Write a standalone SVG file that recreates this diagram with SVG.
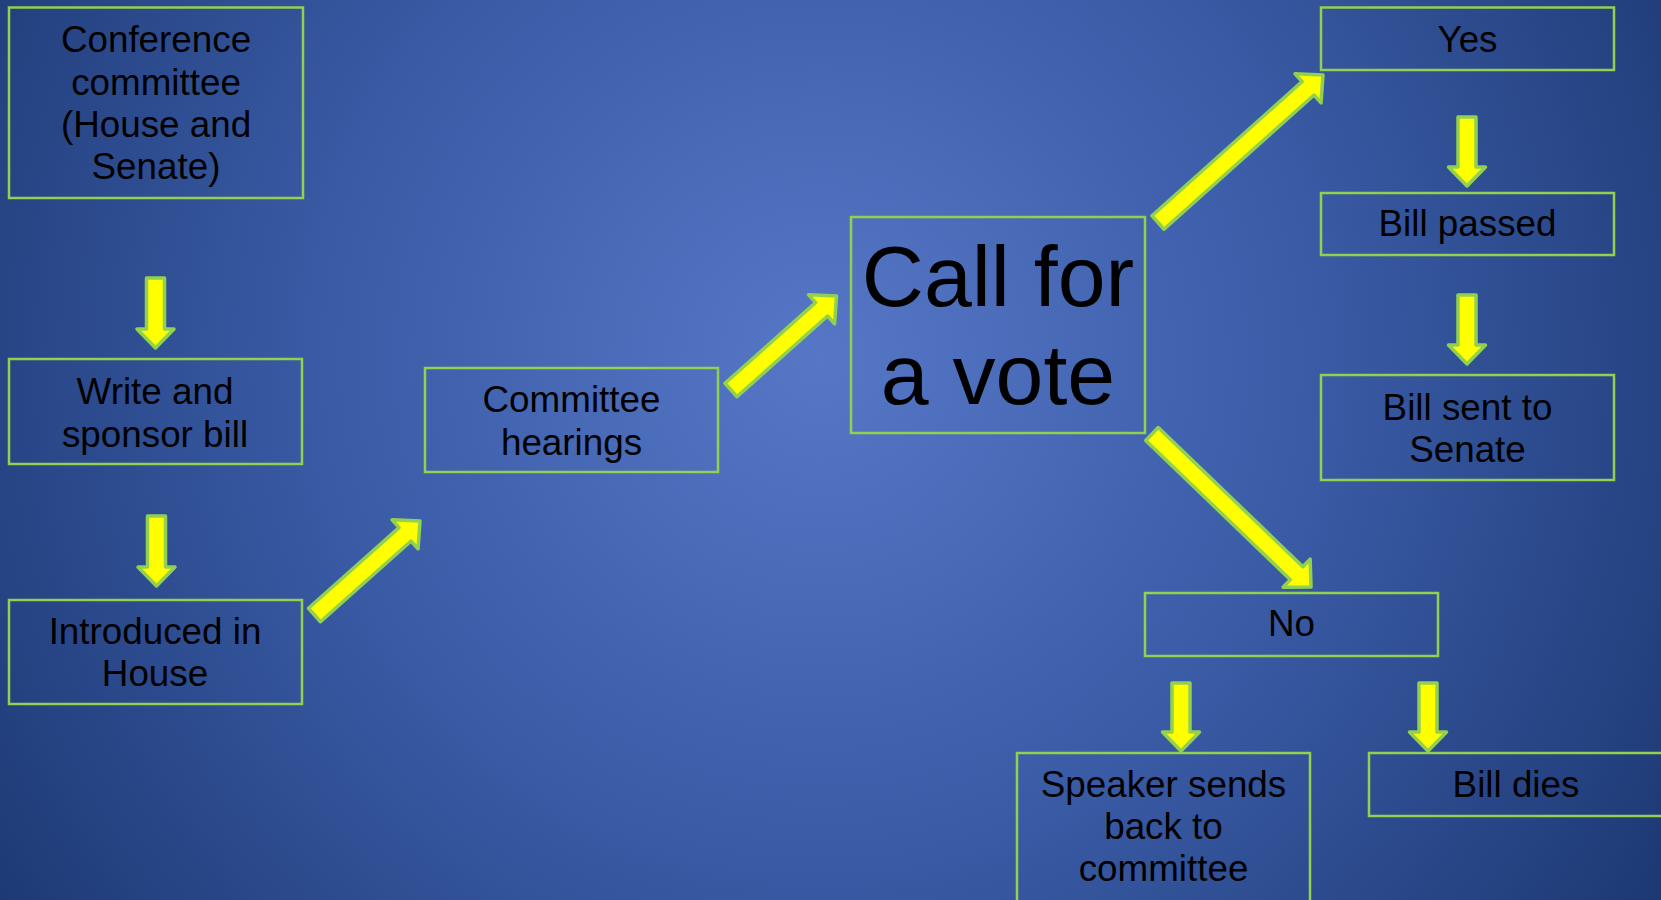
<svg xmlns="http://www.w3.org/2000/svg" width="1661" height="900" viewBox="0 0 1661 900">
<style>
.box{fill:none;stroke:#92D050;stroke-width:2.5}
.t{font-family:"Liberation Sans",Arial,sans-serif;font-size:36.8px;fill:#000;text-anchor:middle}
.big{font-size:86px}
.arr{fill:#FFFF00;stroke:#92D050;stroke-width:3.5;stroke-linejoin:round}
</style>
<defs>
<radialGradient id="bg" gradientUnits="userSpaceOnUse" cx="820" cy="360" r="1050">
<stop offset="0" stop-color="#5577C6"/>
<stop offset="0.45" stop-color="#3B5DA8"/>
<stop offset="1" stop-color="#1A356E"/>
</radialGradient>
</defs>
<rect width="1661" height="900" fill="url(#bg)"/>
<g id="connectors">
<path class="arr" d="M146.5,278 H164.5 V329 H174 L155.5,348 L137,329 H146.5 Z"/>
<path class="arr" d="M147.5,516 H165.5 V567 H175 L156.5,586 L138,567 H147.5 Z"/>
<path class="arr" d="M1458,117 H1476 V167 H1485.5 L1467,186 L1448.5,167 H1458 Z"/>
<path class="arr" d="M1458,295 H1476 V345 H1485.5 L1467,364 L1448.5,345 H1458 Z"/>
<path class="arr" d="M1172,683 H1190 V732 H1199.5 L1181,751 L1162.5,732 H1172 Z"/>
<path class="arr" d="M1419,683 H1437 V732 H1446.5 L1428,751 L1409.5,732 H1419 Z"/>
<path class="arr" transform="translate(314.5,615) rotate(-41.7)" d="M0,-9 H121.3 V-19.5 L141.3,0 L121.3,19.5 V9 H0 Z"/>
<path class="arr" transform="translate(731,390) rotate(-41.7)" d="M0,-9 H121.3 V-19.5 L141.3,0 L121.3,19.5 V9 H0 Z"/>
<path class="arr" transform="translate(1158,222.5) rotate(-41.8)" d="M0,-9 H201.3 V-19.5 L221.3,0 L201.3,19.5 V9 H0 Z"/>
<path class="arr" transform="translate(1152,434) rotate(43.9)" d="M0,-9 H200.7 V-19.5 L220.7,0 L200.7,19.5 V9 H0 Z"/>
</g>
<g id="conference">
<rect class="box" x="9" y="7.5" width="294" height="190.5"/>
<text class="t" x="156" y="51.5">Conference</text>
<text class="t" x="156" y="94.5">committee</text>
<text class="t" x="156" y="137">(House and</text>
<text class="t" x="156" y="179">Senate)</text>
</g>
<g id="write">
<rect class="box" x="9" y="359" width="293" height="105"/>
<text class="t" x="155" y="404">Write and</text>
<text class="t" x="155" y="446.5">sponsor bill</text>
</g>
<g id="introduced">
<rect class="box" x="9" y="600" width="293" height="104"/>
<text class="t" x="155" y="644">Introduced in</text>
<text class="t" x="155" y="686">House</text>
</g>
<g id="hearings">
<rect class="box" x="425" y="368" width="293" height="104"/>
<text class="t" x="571.5" y="412">Committee</text>
<text class="t" x="571.5" y="454.5">hearings</text>
</g>
<g id="vote">
<rect class="box" x="851" y="217" width="294" height="216"/>
<text class="t big" x="998" y="306">Call for</text>
<text class="t big" x="998" y="404">a vote</text>
</g>
<g id="yes">
<rect class="box" x="1321" y="7.5" width="293" height="62.5"/>
<text class="t" x="1467.5" y="52">Yes</text>
</g>
<g id="passed">
<rect class="box" x="1321" y="193" width="293" height="62"/>
<text class="t" x="1467.5" y="236">Bill passed</text>
</g>
<g id="senate">
<rect class="box" x="1321" y="375" width="293" height="105"/>
<text class="t" x="1467.5" y="419.5">Bill sent to</text>
<text class="t" x="1467.5" y="462">Senate</text>
</g>
<g id="no">
<rect class="box" x="1145" y="593" width="293" height="63"/>
<text class="t" x="1291.5" y="635.5">No</text>
</g>
<g id="speaker">
<rect class="box" x="1017" y="753" width="293" height="160"/>
<text class="t" x="1163.5" y="796.5">Speaker sends</text>
<text class="t" x="1163.5" y="839">back to</text>
<text class="t" x="1163.5" y="881">committee</text>
</g>
<g id="dies">
<rect class="box" x="1369" y="753" width="300" height="63"/>
<text class="t" x="1516" y="796.5">Bill dies</text>
</g>
</svg>
